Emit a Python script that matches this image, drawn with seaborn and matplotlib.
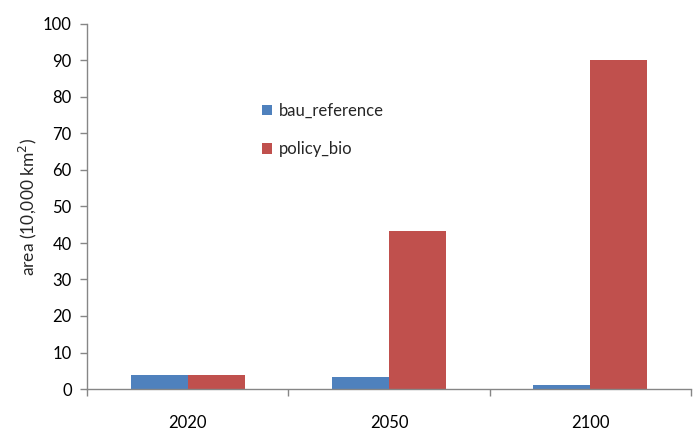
import matplotlib
matplotlib.use("Agg")
import matplotlib.pyplot as plt
import seaborn as sns
import pandas as pd

years = ["2020", "2050", "2100"]
bau_reference = [3.7, 3.3, 1.0]
policy_bio = [3.7, 43.2, 90.2]
series_names = ["bau_reference", "policy_bio"]
colors = ["#4F81BD", "#C0504D"]

df = pd.DataFrame({
    "year": years * 2,
    "value": bau_reference + policy_bio,
    "scenario": [series_names[0]] * 3 + [series_names[1]] * 3,
})

sns.set_theme(style="white")
plt.rcParams["font.family"] = ["Lato", "DejaVu Sans"]

fig = plt.figure(figsize=(6.93, 4.40), dpi=100)
ax = fig.add_axes([87 / 693, 51 / 440, 604 / 693, 365 / 440])

sns.barplot(data=df, x="year", y="value", hue="scenario", palette=colors,
            width=0.566, gap=0, saturation=1, ax=ax, edgecolor="none")

ax.set_ylim(0, 100)
ax.set_xlim(-0.5, 2.5)
ax.set_yticks(range(0, 101, 10))
ax.set_xlabel("")
ax.set_ylabel("area (10,000 km$^2$)", fontsize=12.5, labelpad=3)

for side in ["top", "right"]:
    ax.spines[side].set_visible(False)
for side in ["left", "bottom"]:
    ax.spines[side].set_color("#868686")
    ax.spines[side].set_linewidth(1)

ax.tick_params(axis="y", which="major", left=True, length=5, width=1,
               color="#868686", labelsize=12, pad=6, labelcolor="black")
ax.tick_params(axis="x", which="major", bottom=False, labelsize=12,
               pad=13, labelcolor="black")
ax.set_xticks([-0.5, 0.5, 1.5, 2.5], minor=True)
ax.tick_params(axis="x", which="minor", bottom=True, length=5, width=1,
               color="#868686")

leg = ax.legend(loc="upper left", bbox_to_anchor=(0.265, 0.825), frameon=False,
                fontsize=12, handlelength=0.6, handleheight=0.6,
                handletextpad=0.4, labelspacing=1.35)

fig.savefig("out.png", dpi=100)
